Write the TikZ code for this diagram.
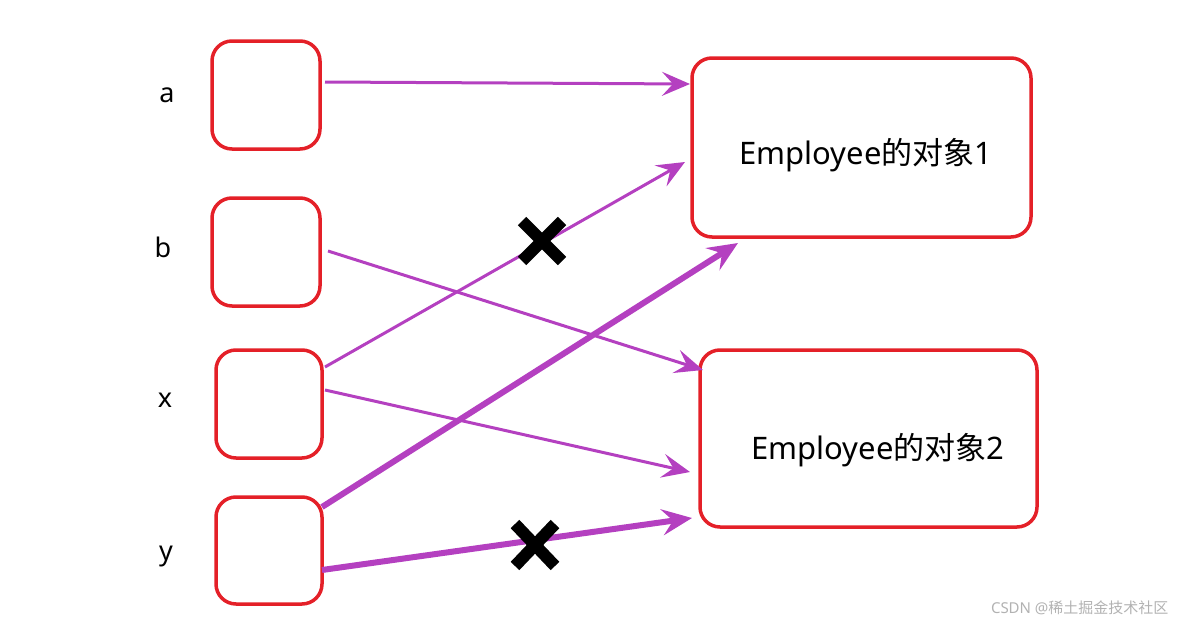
\documentclass[tikz,border=0pt]{standalone}
\usepackage{fontspec}
\setmainfont{Noto Sans}
\newfontfamily\cjk{Noto Sans CJK SC}
\usetikzlibrary{arrows.meta}
\definecolor{bred}{RGB}{228,32,40}
\definecolor{arr}{RGB}{180,64,192}
\begin{document}
\begin{tikzpicture}[x=1pt,y=-1pt,
  box/.style={draw=bred,line width=3.5pt,rounded corners=20pt},
  ar/.style={draw=arr,line width=3pt,-{Stealth[length=28pt,width=24pt,inset=11pt]}},
  thk/.style={ar,line width=6pt,-{Stealth[length=30pt,width=26pt,inset=11pt]}},
  lab/.style={font=\fontsize{27}{27}\selectfont},
  big/.style={font=\fontsize{31}{31}\selectfont},
  crs/.style={line width=12pt,black}]
\useasboundingbox (0,0) rectangle (1179,629);
\draw[box] (212,41) rectangle (320,149);
\draw[box] (212,198) rectangle (320,306);
\draw[box] (216,350) rectangle (322,458);
\draw[box] (216,497) rectangle (322,604);
\draw[box] (692,58) rectangle (1031,237);
\draw[box] (700,350) rectangle (1037,527);
\node[lab] (la) at (167,95) {a};
\node[lab] (lb) at (163,247) {b};
\node[lab] (lx) at (165,400) {x};
\node[lab] (ly) at (166,556) {y};
\node[big] (e1) at (866,155) {Employee{\cjk 的对象}1};
\node[big] (e2) at (878,450) {Employee{\cjk 的对象}2};
\coordinate (a0) at (325,82); \coordinate (a1) at (690,84);
\coordinate (b0) at (328,251); \coordinate (b1) at (703,370);
\coordinate (x0) at (325,367); \coordinate (x1) at (685,162);
\coordinate (x2) at (325,390); \coordinate (x3) at (690,472);
\coordinate (y0) at (322,507); \coordinate (y1) at (738,243);
\coordinate (y2) at (322,570); \coordinate (y3) at (692,518);
\draw[ar] (a0) -- (a1);
\draw[ar] (b0) -- (b1);
\draw[ar] (x0) -- (x1);
\draw[ar] (x2) -- (x3);
\draw[thk] (y0) -- (y1);
\draw[thk] (y2) -- (y3);
\draw[crs] (522,221) -- (562,261) (562,221) -- (522,261);
\draw[crs] (515,524) -- (555,566) (555,524) -- (515,566);
\node[text=gray!60,font=\fontsize{15}{15}\selectfont,anchor=east] (wm) at (1172,608) {CSDN @{\cjk 稀土掘金技术社区}};
\end{tikzpicture}
\end{document}
